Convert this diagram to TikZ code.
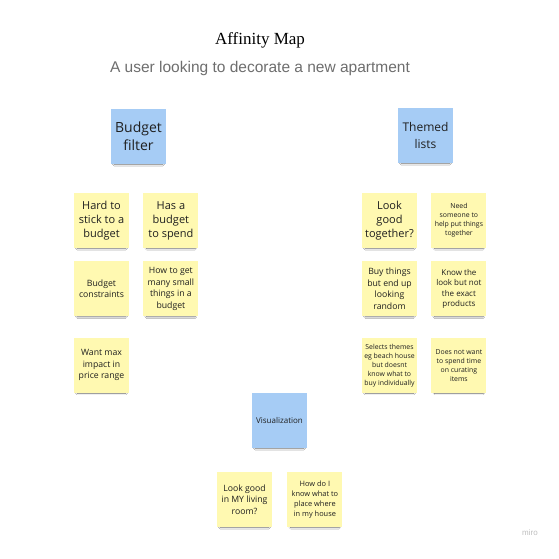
\documentclass[tikz,border=0pt]{standalone}
\usepackage{fontspec}
\setmainfont{Open Sans}
\newfontfamily\titlefont{Liberation Serif}
\newfontfamily\subtitlefont{Liberation Sans}
\usetikzlibrary{
positioning,%
shadows.blur
}
\definecolor{stickyyellow}{HTML}{FFF9B1}
\definecolor{stickyblue}{HTML}{A6CCF5}
\definecolor{subgray}{HTML}{6E6E6E}
\tikzset{
    note/.style={fill=stickyyellow, minimum width=55pt, minimum height=55pt,
        inner sep=1pt, align=center, text=black!88,
        blur shadow={shadow xshift=0pt, shadow yshift=-4pt, shadow scale=0.88,
        shadow opacity=60, shadow blur steps=6}},
    header/.style={note, fill=stickyblue},
    huge/.style={font=\fontsize{14}{18}\selectfont},
    large/.style={font=\fontsize{11}{14}\selectfont},
    medium/.style={font=\fontsize{8.7}{11.5}\selectfont},
    small/.style={font=\fontsize{8}{10.3}\selectfont},
    tiny/.style={font=\fontsize{6.9}{9}\selectfont}
}

\begin{document}
\begin{tikzpicture}[x=1pt, y=-1pt]
            \fill[white] (0,0) rectangle (559,559);
            \useasboundingbox (0,0) rectangle (559,559);
            % ---- titles
            \node[font=\titlefont\fontsize{17}{20}\selectfont] (title) at (260,40) {Affinity Map};
            \node[font=\subtitlefont\fontsize{15.5}{18}\selectfont, text=subgray] (subtitle) at (260,68) {A user looking to decorate a new apartment};
            % ---- budget
            \node[header, huge] (budget) at (138.5,136.5) {Budget\\filter};
            \node[note, large] (hard) at (101.5,220.5) {Hard to\\stick to a\\budget};
            \node[note, large, right = 14pt of hard] (has) {Has a\\budget\\to spend};
            \node[note, medium, below = 13pt of hard] (constraints) {Budget\\constraints};
            \node[note, medium, right = 14pt of constraints] (small) {How to get\\many small\\things in a\\budget};
            \node[note, medium, below = 21pt of constraints] (maximpact) {Want max\\impact in\\price range};
            % ---- themes
            \node[header, font=\fontsize{12}{16.5}\selectfont] (themed) at (425.5,135.5) {Themed\\lists};
            \node[note, large] (together) at (389.5,220.5) {Look\\good\\together?};
            \node[note, tiny, right = 14pt of together] (someone) {Need\\someone to\\help put things\\together};
            \node[note, medium, below = 13pt of together] (random) {Buy things\\but end up\\looking\\random};
            \node[note, small, right = 14pt of random] (look) {Know the\\look but not\\the exact\\products};
            \node[note, tiny, below = 21pt of random] (selects) {Selects themes\\eg beach house\\but doesnt\\know what to\\buy individually};
            \node[note, tiny, right = 14pt of selects] (curating) {Does not want\\to spend time\\on curating\\items};
            % ---- visualization
            \node[header, small] (visual) at (279.5,420.5) {Visualization};
            \node[note, medium] (living) at (244.5,499.5) {Look good\\in MY living\\room?};
            \node[note, font=\fontsize{7.4}{9.8}\selectfont, right = 15pt of living] (place) {How do I\\know what to\\place where\\in my house};
            % ---- watermark
            \node[font=\subtitlefont\fontsize{8}{10}\selectfont, text=black!25] (miro) at (530,533) {miro};
\end{tikzpicture}
\end{document}
